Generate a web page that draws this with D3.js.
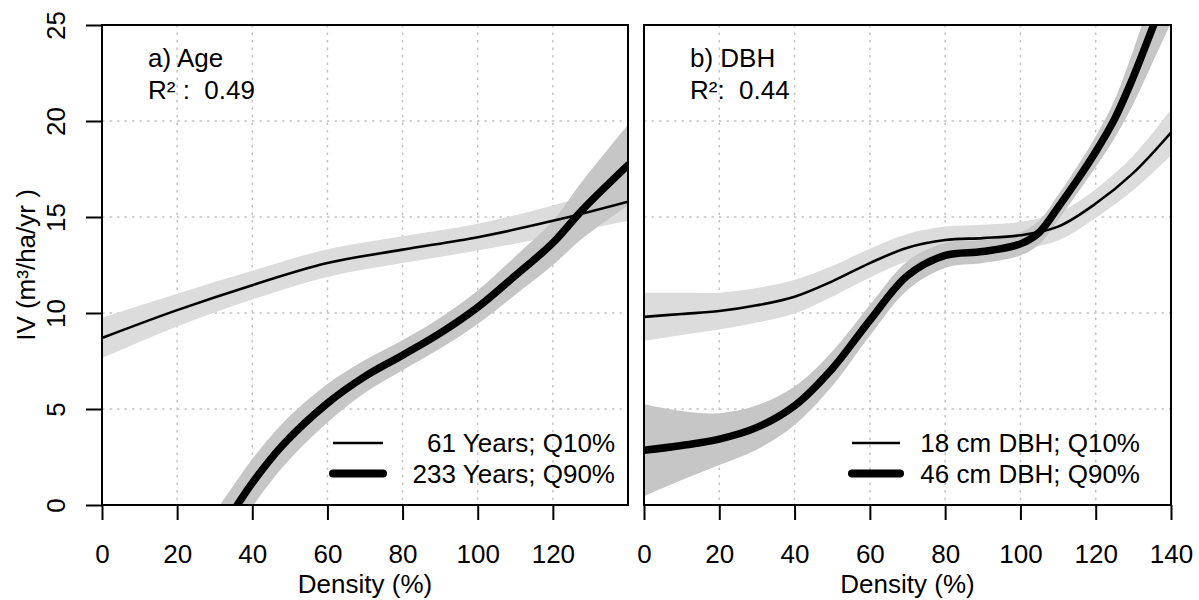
<!DOCTYPE html>
<html>
<head>
<meta charset="utf-8">
<script src="https://cdn.jsdelivr.net/npm/d3@7"></script>
<style>
  body { margin: 0; background: #fff; }
  svg text { font-family: "Liberation Sans", Arial, sans-serif; fill: #000; white-space: pre; }
</style>
</head>
<body>
<svg id="chart" width="1199" height="600"></svg>
<script>
// axis ticks
var xTicksA = [0, 20, 40, 60, 80, 100, 120];
var xTicksB = [0, 20, 40, 60, 80, 100, 120, 140];
var yTicks = [0, 5, 10, 15, 20, 25];

// panel a) Age  (values read off the picture)
var ageLowX = [0, 20, 40, 60, 80, 100, 120, 140];
var ageLow = [8.7, 10.15, 11.45, 12.6, 13.3, 13.95, 14.8, 15.8];
var ageLowCi = [1.05, 0.85, 0.75, 0.72, 0.7, 0.7, 0.8, 1.0];

var ageHighX = [30, 36, 40, 48, 60, 70, 80, 90, 100, 110, 120, 128, 140];
var ageHigh = [-1.8, 0.0, 1.15, 3.1, 5.3, 6.7, 7.8, 8.95, 10.3, 11.95, 13.65, 15.4, 17.7];
var ageHighCi = [1.4, 1.3, 1.25, 1.15, 1.0, 0.85, 0.78, 0.8, 0.87, 1.0, 1.15, 1.5, 2.1];

// panel b) DBH
var dbhLowX = [0, 10, 20, 30, 40, 50, 60, 70, 80, 90, 100, 110, 120, 130, 140];
var dbhLow = [9.8, 9.95, 10.1, 10.4, 10.85, 11.65, 12.6, 13.4, 13.8, 13.9, 14.05, 14.5, 15.7, 17.3, 19.4];
var dbhLowCi = [1.26, 1.1, 0.96, 0.9, 0.88, 0.8, 0.75, 0.72, 0.7, 0.7, 0.7, 0.72, 0.75, 0.9, 1.2];

var dbhHighX = [0, 10, 20, 30, 40, 50, 60, 70, 80, 90, 100, 105, 110, 115, 120, 125, 130, 135, 140];
var dbhHigh = [2.85, 3.1, 3.43, 4.04, 5.17, 7.1, 9.62, 11.95, 13.0, 13.2, 13.6, 14.2, 15.5, 16.9, 18.4, 20.1, 22.3, 24.8, 27.3];
var dbhHighCi = [2.4, 1.8, 1.35, 1.15, 1.0, 0.9, 0.8, 0.75, 0.65, 0.6, 0.6, 0.62, 0.65, 0.7, 0.8, 1.0, 1.4, 1.8, 2.2];

var legendA = ["61 Years; Q10%", "233 Years; Q90%"];
var legendB = ["18 cm DBH; Q10%", "46 cm DBH; Q90%"];

var svg = d3.select("#chart");

var top_ = 25, bottom = 505;
var y = d3.scaleLinear().domain([0, 25]).range([bottom, top_]);

function zip(xs, vs, cis) {
    return xs.map(function (d, i) { return { x: d, v: vs[i], ci: cis[i] }; });
}

function drawPanel(p) {
    var x = d3.scaleLinear().domain([0, 140]).range([p.left, p.right]);
    var g = svg.append("g");

    g.append("clipPath").attr("id", "clip" + p.id)
        .append("rect")
        .attr("x", p.left).attr("y", top_)
        .attr("width", p.right - p.left).attr("height", bottom - top_);

    // dotted grid
    g.selectAll("line.vgrid")
        .data([20, 40, 60, 80, 100, 120])
        .enter().append("line")
        .attr("x1", function (d) { return x(d); }).attr("x2", function (d) { return x(d); })
        .attr("y1", top_).attr("y2", bottom)
        .attr("stroke", "#c4c4c4").attr("stroke-width", 1.5).attr("stroke-dasharray", "2.5,5");
    g.selectAll("line.hgrid")
        .data([5, 10, 15, 20])
        .enter().append("line")
        .attr("x1", p.left).attr("x2", p.right)
        .attr("y1", function (d) { return y(d); }).attr("y2", function (d) { return y(d); })
        .attr("stroke", "#c4c4c4").attr("stroke-width", 1.5).attr("stroke-dasharray", "2.5,5");

    var plot = g.append("g").attr("clip-path", "url(#clip" + p.id + ")");

    var band = d3.area()
        .x(function (d) { return x(d.x); })
        .y0(function (d) { return y(d.v - d.ci); })
        .y1(function (d) { return y(d.v + d.ci); })
        .curve(d3.curveCatmullRom);
    var line = d3.line()
        .x(function (d) { return x(d.x); })
        .y(function (d) { return y(d.v); })
        .curve(d3.curveCatmullRom);

    plot.append("path").attr("d", band(p.low)).attr("fill", "#dcdcdc");
    plot.append("path").attr("d", band(p.high)).attr("fill", "#c6c6c6");
    plot.append("path").attr("d", line(p.low))
        .attr("fill", "none").attr("stroke", "#000").attr("stroke-width", 2.6);
    plot.append("path").attr("d", line(p.high))
        .attr("fill", "none").attr("stroke", "#000").attr("stroke-width", 7.5)
        .attr("stroke-linecap", "round").attr("stroke-linejoin", "round");

    // box
    g.append("rect")
        .attr("x", p.left).attr("y", top_)
        .attr("width", p.right - p.left).attr("height", bottom - top_)
        .attr("fill", "none").attr("stroke", "#000").attr("stroke-width", 2);

    // x axis
    var xAxis = g.append("g")
        .attr("transform", "translate(0," + bottom + ")")
        .call(d3.axisBottom(x).tickValues(p.xTicks).tickSize(15).tickSizeOuter(0).tickPadding(24.5));
    xAxis.select(".domain").remove();
    xAxis.selectAll("line").attr("stroke", "#000").attr("stroke-width", 2);
    xAxis.selectAll("text").style("font-size", "26px")
        .style("font-family", "Liberation Sans, Arial, sans-serif").attr("fill", "#000");

    g.append("text")
        .attr("x", (p.left + p.right) / 2).attr("y", 593)
        .attr("text-anchor", "middle").style("font-size", "26px")
        .text("Density (%)");

    // panel label
    g.append("text").attr("x", p.left + 46).attr("y", 67).style("font-size", "26px").text(p.title);
    g.append("text").attr("x", p.left + 46).attr("y", 99).style("font-size", "26px").text(p.r2);

    // legend
    var leg = g.append("g");
    [0, 1].forEach(function (i) {
        var ly = 443 + i * 30.5;
        leg.append("line")
            .attr("x1", p.legX1).attr("x2", p.legX2)
            .attr("y1", ly).attr("y2", ly)
            .attr("stroke", "#000")
            .attr("stroke-width", i == 0 ? 2.6 : 8)
            .attr("stroke-linecap", i == 0 ? "butt" : "round");
        leg.append("text")
            .attr("x", p.legTextEnd).attr("y", ly + 9)
            .attr("text-anchor", "end").style("font-size", "26px")
            .text(p.legend[i]);
    });
}

drawPanel({
    id: "a", left: 102, right: 628, xTicks: xTicksA,
    low: zip(ageLowX, ageLow, ageLowCi), high: zip(ageHighX, ageHigh, ageHighCi),
    title: "a) Age", r2: "R² :  0.49",
    legend: legendA, legX1: 333, legX2: 383, legTextEnd: 615
});
drawPanel({
    id: "b", left: 644, right: 1171, xTicks: xTicksB,
    low: zip(dbhLowX, dbhLow, dbhLowCi), high: zip(dbhHighX, dbhHigh, dbhHighCi),
    title: "b) DBH", r2: "R²:  0.44",
    legend: legendB, legX1: 852, legX2: 900, legTextEnd: 1140
});

// y axis (only on the left panel)
var yAxis = svg.append("g")
    .attr("transform", "translate(102,0)")
    .call(d3.axisLeft(y).tickValues(yTicks).tickSize(16).tickSizeOuter(0));
yAxis.select(".domain").remove();
yAxis.selectAll("line").attr("stroke", "#000").attr("stroke-width", 2);
yAxis.selectAll("text")
    .attr("x", null).attr("dy", null)
    .attr("text-anchor", "middle")
    .attr("transform", "translate(-37,0) rotate(-90)")
    .style("font-size", "26px")
    .style("font-family", "Liberation Sans, Arial, sans-serif")
    .attr("fill", "#000");

svg.append("text")
    .attr("transform", "translate(35,265) rotate(-90)")
    .attr("text-anchor", "middle").style("font-size", "26px")
    .text("IV (m³/ha/yr )");
</script>
</body>
</html>
